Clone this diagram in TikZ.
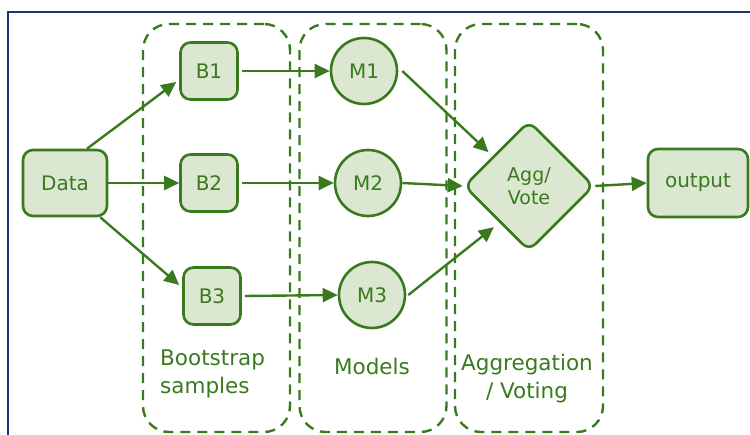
\documentclass[tikz,border=0pt]{standalone}
\usepackage{fontspec}
\setmainfont{DejaVu Sans}
\usetikzlibrary{arrows.meta,shapes.geometric,calc}
\definecolor{ink}{RGB}{58,122,30}
\definecolor{leaf}{RGB}{220,231,209}
\definecolor{framec}{RGB}{30,50,120}
\begin{document}
\begin{tikzpicture}[x=1pt,y=-1pt,
  grp/.style={draw=ink,line width=2.4pt,dash pattern=on 10pt off 7pt,rounded corners=26pt,minimum width=#1,minimum height=408pt,inner sep=0pt},
  box/.style={draw=ink,fill=leaf,line width=2.6pt,rounded corners=10pt,inner sep=0pt,font=\fontsize{20}{24}\selectfont,text=ink},
  ball/.style={draw=ink,fill=leaf,line width=2.6pt,circle,inner sep=0pt,minimum size=66pt,font=\fontsize{20}{24}\selectfont,text=ink},
  lbl/.style={text=ink,font=\fontsize{21.5}{28}\selectfont,inner sep=0pt},
  arr/.style={draw=ink,line width=2.4pt,-{Triangle[length=15pt,width=14pt]}}]
\useasboundingbox (0,0) rectangle (750,435);
\draw[framec,line width=2pt] (8,437) -- (8,12) -- (752,12);
% groups
\node[grp=147pt] (g1) at (216.5,228) {};
\node[grp=147pt] (g2) at (373,228) {};
\node[grp=148pt] (g3) at (529,228) {};
% nodes
\node[box,minimum width=84pt,minimum height=66pt] (data) at (65,183) {Data};
\node[box,minimum width=57pt,minimum height=57pt] (b1) at (209,71) {B1};
\node[box,minimum width=57pt,minimum height=57pt] (b2) at (209,183) {B2};
\node[box,minimum width=57pt,minimum height=57pt] (b3) at (212,296) {B3};
\node[ball] (m1) at (364,71) {M1};
\node[ball] (m2) at (368,183) {M2};
\node[ball] (m3) at (372,295) {M3};
\node[draw=ink,fill=leaf,line width=2.6pt,diamond,rounded corners=9pt,minimum width=130pt,minimum height=130pt,inner sep=0pt,align=center,text=ink,font=\fontsize{19}{23}\selectfont] (agg) at (529,186) {Agg/\\Vote};
\node[box,minimum width=100pt,minimum height=68pt] (out) at (698,183) {output};
% labels
\node[lbl,align=left,anchor=north west] (l1) at (160,350) {Bootstrap\\samples};
\node[lbl] (l2) at (372,366) {Models};
\node[lbl,align=center] (l3) at (527,379) {Aggregation\\/ Voting};
% arrows
\draw[arr] ([xshift=22pt]data.north) -- ([xshift=-3pt,yshift=-11pt]b1.west);
\draw[arr] (data.east) -- (b2.west);
\draw[arr] ([xshift=-8pt]data.south east) -- ([xshift=-3pt,yshift=11pt]b3.west);
\draw[arr] ([xshift=3pt]b1.east) -- (m1.west);
\draw[arr] ([xshift=3pt]b2.east) -- (m2.west);
\draw[arr] ([xshift=3pt]b3.east) -- (m3.west);
\draw[arr] ([xshift=4pt]m1.east) -- ($(agg.west)!0.45!(agg.north)+(-4,-4)$);
\draw[arr] (m2.east) -- (agg.west);
\draw[arr] ([xshift=2pt]m3.east) -- ($(agg.west)!0.5!(agg.south)+(-2,8)$);
\draw[arr] (agg.east) -- (out.west);
\end{tikzpicture}
\end{document}
